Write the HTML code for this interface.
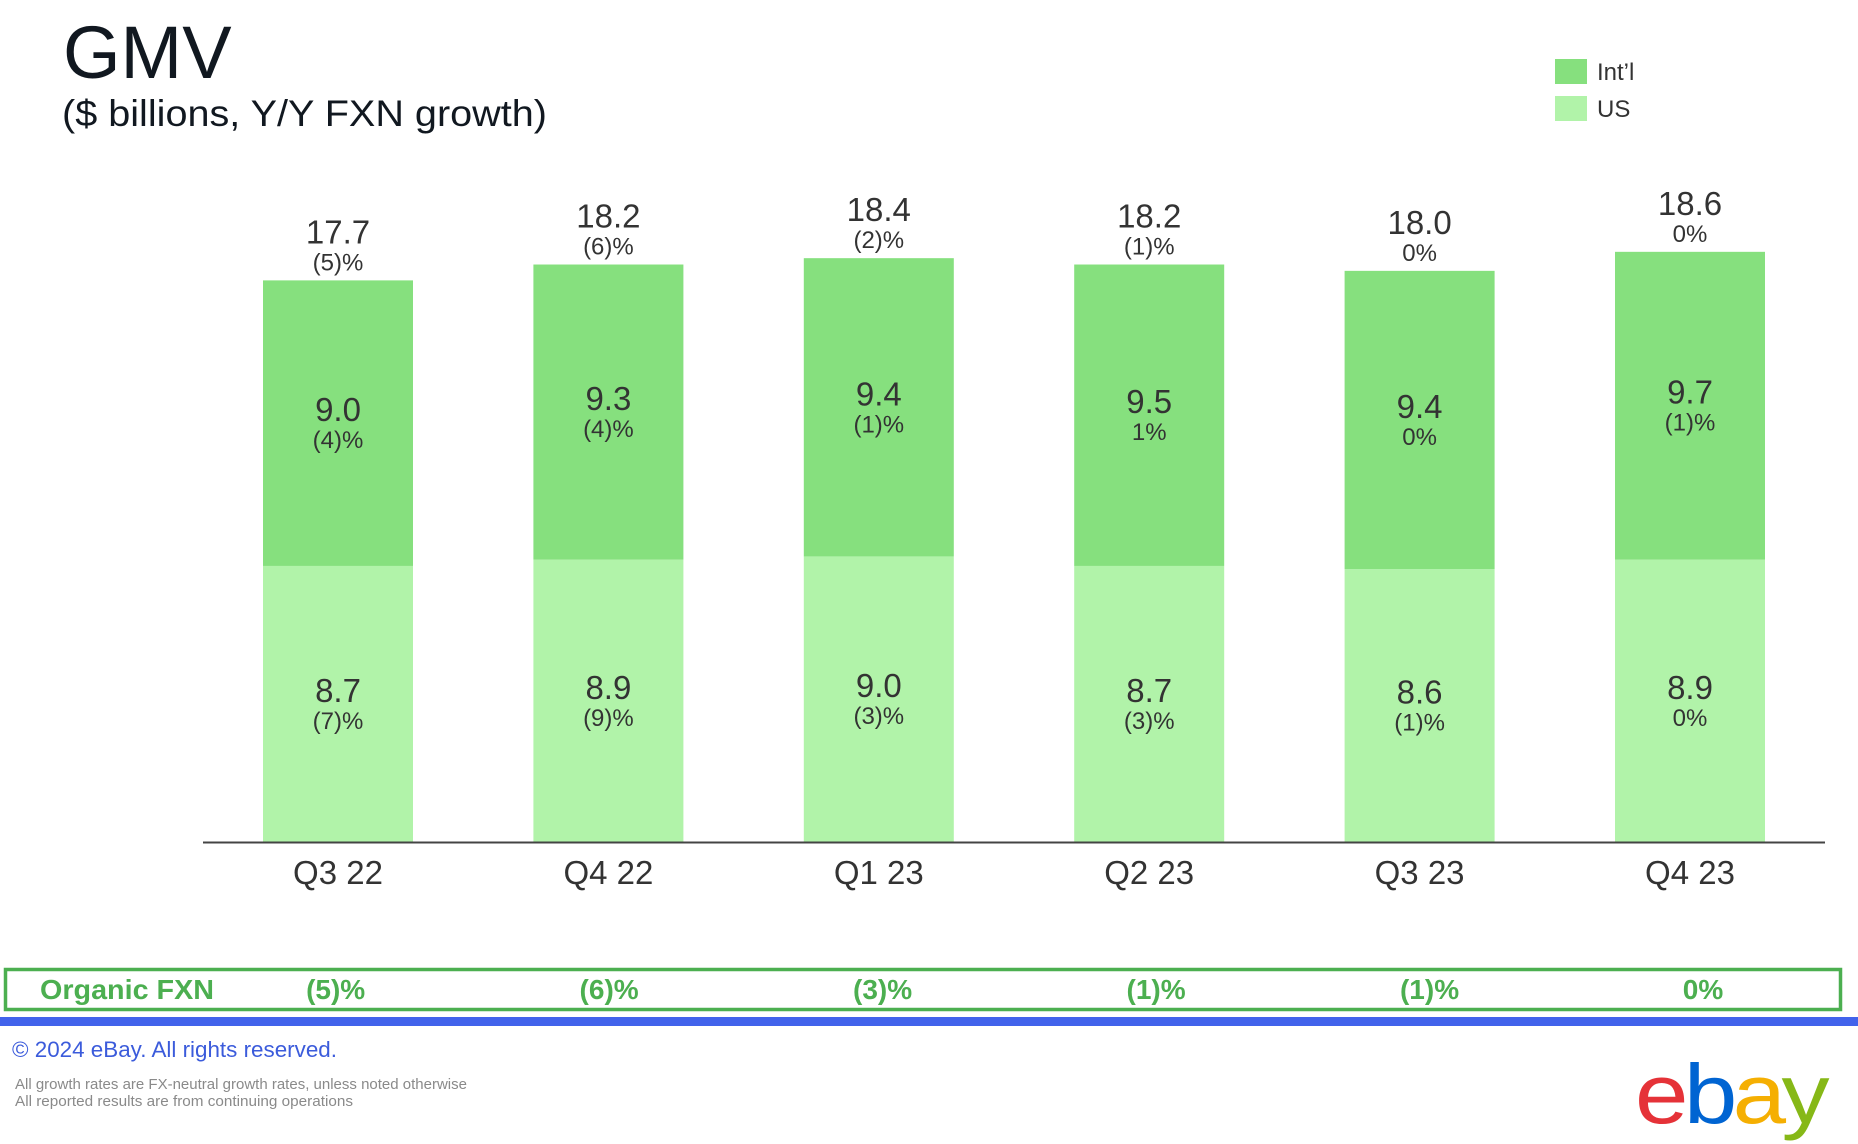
<!DOCTYPE html>
<html><head><meta charset="utf-8"><style>
html,body{margin:0;padding:0;background:#fff;}
svg{display:block;font-family:"Liberation Sans",sans-serif;}
</style></head><body>
<svg id="chart" width="1858" height="1144" viewBox="0 0 1858 1144">
  <text x="63" y="78" font-size="74" fill="#111820">GMV</text>
  <text x="62" y="126" font-size="37" fill="#111820" textLength="485" lengthAdjust="spacingAndGlyphs">($ billions, Y/Y FXN growth)</text>
  <g>
    <rect x="1555" y="59" width="32" height="25" fill="#86e07e"/>
    <text x="1597" y="80" font-size="24" fill="#333">Int’l</text>
    <rect x="1555" y="96" width="32" height="25" fill="#b1f3a9"/>
    <text x="1597" y="117" font-size="24" fill="#333">US</text>
  </g>
  <g id="bars"></g>
  <line x1="203" y1="842.5" x2="1825" y2="842.5" stroke="#444" stroke-width="2"/>
  <g id="xlabels"></g>
  <rect x="5.5" y="969.5" width="1835" height="40" fill="none" stroke="#4caf50" stroke-width="3.5"/>
  <text x="40" y="999" font-size="28" font-weight="bold" fill="#4caf50" textLength="174" lengthAdjust="spacingAndGlyphs">Organic FXN</text>
  <g id="organic"></g>
  <rect x="0" y="1017" width="1858" height="9" fill="#4263eb"/>
  <text x="12" y="1057" font-size="22" fill="#3b5bdb" textLength="325" lengthAdjust="spacingAndGlyphs">© 2024 eBay. All rights reserved.</text>
  <text x="15" y="1089" font-size="14.5" fill="#8a8a8a" textLength="452" lengthAdjust="spacingAndGlyphs">All growth rates are FX-neutral growth rates, unless noted otherwise</text>
  <text x="15" y="1106" font-size="14.5" fill="#8a8a8a" textLength="338" lengthAdjust="spacingAndGlyphs">All reported results are from continuing operations</text>
  <text x="1635" y="1123" font-size="84" textLength="190" lengthAdjust="spacingAndGlyphs" letter-spacing="-4"><tspan fill="#e53238">e</tspan><tspan fill="#0064d2">b</tspan><tspan fill="#f5af02">a</tspan><tspan fill="#86b817">y</tspan></text>
</svg>
<script>
const categories = ["Q3 22","Q4 22","Q1 23","Q2 23","Q3 23","Q4 23"];
const usValues = [8.7, 8.9, 9.0, 8.7, 8.6, 8.9];
const intlValues = [9.0, 9.3, 9.4, 9.5, 9.4, 9.7];
const totalValues = [17.7, 18.2, 18.4, 18.2, 18.0, 18.6];
const usGrowth = ["(7)%","(9)%","(3)%","(3)%","(1)%","0%"];
const intlGrowth = ["(4)%","(4)%","(1)%","1%","0%","(1)%"];
const totalGrowth = ["(5)%","(6)%","(2)%","(1)%","0%","0%"];
const organicFxn = ["(5)%","(6)%","(3)%","(1)%","(1)%","0%"];

const NS = "http://www.w3.org/2000/svg";
const baseY = 842, pxPerUnit = 31.73;
const x0 = 338, step = 270.4, barW = 150;
const xC = i => x0 + i * step;
const yS = v => baseY - v * pxPerUnit;

function mk(tag, attrs, parent, txt){
  const e = document.createElementNS(NS, tag);
  for (const k in attrs) e.setAttribute(k, attrs[k]);
  if (txt !== undefined) e.textContent = txt;
  parent.appendChild(e);
  return e;
}
const gb = document.getElementById("bars");
const gx = document.getElementById("xlabels");
const go = document.getElementById("organic");

categories.forEach((c, i) => {
  const cx = xC(i);
  const us = usValues[i], intl = intlValues[i], tot = totalValues[i];
  const yUs = yS(us), yTop = yS(us + intl);
  let r = mk("rect", {x: cx - barW/2, y: yUs, width: barW, height: baseY - yUs, fill: "#b1f3a9"}, gb);
  
  
  r = mk("rect", {x: cx - barW/2, y: yTop, width: barW, height: yUs - yTop, fill: "#86e07e"}, gb);
  
  

  const mUs = (yUs + baseY) / 2, mIn = (yTop + yUs) / 2;
  let t = mk("text", {x: cx, y: mUs - 2, "font-size": 33, fill: "#333", "text-anchor": "middle"}, gb, us.toFixed(1));
  
  
  t = mk("text", {x: cx, y: mUs + 25, "font-size": 24, fill: "#333", "text-anchor": "middle"}, gb, usGrowth[i]);
  
  
  t = mk("text", {x: cx, y: mIn - 2, "font-size": 33, fill: "#333", "text-anchor": "middle"}, gb, intl.toFixed(1));
  
  
  t = mk("text", {x: cx, y: mIn + 25, "font-size": 24, fill: "#333", "text-anchor": "middle"}, gb, intlGrowth[i]);
  
  
  const yT = yS(tot);
  t = mk("text", {x: cx, y: yT - 37, "font-size": 33, fill: "#333", "text-anchor": "middle"}, gb, tot.toFixed(1));
  
  
  t = mk("text", {x: cx, y: yT - 10, "font-size": 24, fill: "#333", "text-anchor": "middle"}, gb, totalGrowth[i]);
  
  

  t = mk("text", {x: cx, y: 884, "font-size": 33, fill: "#333", "text-anchor": "middle"}, gx, c);
  
  

  t = mk("text", {x: cx + (-2 + i * 2.6) * 1.185, y: 999, "font-size": 28, "font-weight": "bold", fill: "#4caf50", "text-anchor": "middle"}, go, organicFxn[i]);
  
  
});
</script>
</body></html>
